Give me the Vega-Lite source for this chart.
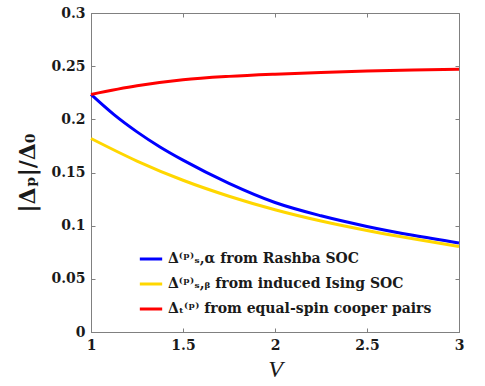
{
  "$schema": "https://vega.github.io/schema/vega-lite/v6.json",
  "width": 368,
  "height": 319,
  "autosize": "none",
  "padding": {"left": 91, "top": 13, "right": 26, "bottom": 54},
  "background": "white",
  "config": {
    "view": {"stroke": "#808080", "strokeWidth": 1},
    "font": "DejaVu Serif",
    "axis": {
      "grid": false,
      "domainColor": "#808080",
      "tickColor": "#808080",
      "tickSize": -4,
      "labelFont": "DejaVu Serif",
      "labelFontWeight": "bold",
      "labelFontSize": 14,
      "labelColor": "#1a1a1a",
      "titleColor": "#1a1a1a"
    }
  },
  "data": {
    "values": [
      {"V": 1.0, "value": 0.2234, "series": "Δ⁽ᵖ⁾ₛ,α from Rashba SOC"},
      {"V": 1.125, "value": 0.2044, "series": "Δ⁽ᵖ⁾ₛ,α from Rashba SOC"},
      {"V": 1.25, "value": 0.1882, "series": "Δ⁽ᵖ⁾ₛ,α from Rashba SOC"},
      {"V": 1.375, "value": 0.174, "series": "Δ⁽ᵖ⁾ₛ,α from Rashba SOC"},
      {"V": 1.5, "value": 0.1616, "series": "Δ⁽ᵖ⁾ₛ,α from Rashba SOC"},
      {"V": 1.75, "value": 0.1398, "series": "Δ⁽ᵖ⁾ₛ,α from Rashba SOC"},
      {"V": 2.0, "value": 0.1218, "series": "Δ⁽ᵖ⁾ₛ,α from Rashba SOC"},
      {"V": 2.25, "value": 0.1093, "series": "Δ⁽ᵖ⁾ₛ,α from Rashba SOC"},
      {"V": 2.5, "value": 0.0993, "series": "Δ⁽ᵖ⁾ₛ,α from Rashba SOC"},
      {"V": 2.75, "value": 0.0909, "series": "Δ⁽ᵖ⁾ₛ,α from Rashba SOC"},
      {"V": 3.0, "value": 0.0837, "series": "Δ⁽ᵖ⁾ₛ,α from Rashba SOC"},
      {"V": 1.0, "value": 0.182, "series": "Δ⁽ᵖ⁾ₛ,ᵦ from induced Ising SOC"},
      {"V": 1.25, "value": 0.1608, "series": "Δ⁽ᵖ⁾ₛ,ᵦ from induced Ising SOC"},
      {"V": 1.5, "value": 0.1427, "series": "Δ⁽ᵖ⁾ₛ,ᵦ from induced Ising SOC"},
      {"V": 1.75, "value": 0.1277, "series": "Δ⁽ᵖ⁾ₛ,ᵦ from induced Ising SOC"},
      {"V": 2.0, "value": 0.115, "series": "Δ⁽ᵖ⁾ₛ,ᵦ from induced Ising SOC"},
      {"V": 2.25, "value": 0.1044, "series": "Δ⁽ᵖ⁾ₛ,ᵦ from induced Ising SOC"},
      {"V": 2.5, "value": 0.0955, "series": "Δ⁽ᵖ⁾ₛ,ᵦ from induced Ising SOC"},
      {"V": 2.75, "value": 0.0877, "series": "Δ⁽ᵖ⁾ₛ,ᵦ from induced Ising SOC"},
      {"V": 3.0, "value": 0.0805, "series": "Δ⁽ᵖ⁾ₛ,ᵦ from induced Ising SOC"},
      {"V": 1.0, "value": 0.2234, "series": "Δₜ⁽ᵖ⁾ from equal-spin cooper pairs"},
      {"V": 1.25, "value": 0.2315, "series": "Δₜ⁽ᵖ⁾ from equal-spin cooper pairs"},
      {"V": 1.5, "value": 0.2372, "series": "Δₜ⁽ᵖ⁾ from equal-spin cooper pairs"},
      {"V": 1.75, "value": 0.2404, "series": "Δₜ⁽ᵖ⁾ from equal-spin cooper pairs"},
      {"V": 2.0, "value": 0.2425, "series": "Δₜ⁽ᵖ⁾ from equal-spin cooper pairs"},
      {"V": 2.25, "value": 0.2441, "series": "Δₜ⁽ᵖ⁾ from equal-spin cooper pairs"},
      {"V": 2.5, "value": 0.2454, "series": "Δₜ⁽ᵖ⁾ from equal-spin cooper pairs"},
      {"V": 2.75, "value": 0.2464, "series": "Δₜ⁽ᵖ⁾ from equal-spin cooper pairs"},
      {"V": 3.0, "value": 0.2472, "series": "Δₜ⁽ᵖ⁾ from equal-spin cooper pairs"}
    ]
  },
  "layer": [
    {
      "mark": {"type": "line", "strokeWidth": 3, "interpolate": "monotone"},
      "encoding": {
        "x": {
          "field": "V", "type": "quantitative",
          "scale": {"domain": [1, 3], "nice": false},
          "axis": {"values": [1, 1.5, 2, 2.5, 3], "format": "~g", "title": "V", "titleFont": "Liberation Serif", "titleFontStyle": "italic", "titleFontWeight": "normal", "titleFontSize": 24, "labelPadding": 10, "titlePadding": 5, "labelFlush": false}
        },
        "y": {
          "field": "value", "type": "quantitative",
          "scale": {"domain": [0, 0.3], "nice": false},
          "axis": {"values": [0, 0.05, 0.1, 0.15, 0.2, 0.25, 0.3], "format": "~g", "title": "|Δₚ|/Δ₀", "titleFont": "DejaVu Serif", "titleFontWeight": "bold", "titleFontSize": 22, "labelPadding": 10, "titlePadding": 11}
        },
        "color": {
          "field": "series", "type": "nominal",
          "scale": {
            "domain": ["Δ⁽ᵖ⁾ₛ,α from Rashba SOC", "Δ⁽ᵖ⁾ₛ,ᵦ from induced Ising SOC", "Δₜ⁽ᵖ⁾ from equal-spin cooper pairs"],
            "range": ["#0000ff", "#ffd700", "#ff0000"]
          },
          "legend": {
            "title": null, "orient": "none", "legendX": 47, "legendY": 233,
            "symbolType": "stroke", "symbolSize": 500, "symbolStrokeWidth": 3,
            "labelFont": "DejaVu Serif", "labelFontWeight": "bold", "labelFontSize": 14, "labelColor": "#1a1a1a",
            "labelLimit": 400, "rowPadding": 5, "padding": 0
          }
        }
      }
    },
    {
      "mark": {"type": "line", "strokeOpacity": 0},
      "encoding": {
        "x": {"field": "V", "type": "quantitative", "scale": {"domain": [1, 3], "nice": false},
          "axis": {"orient": "top", "values": [1, 1.5, 2, 2.5, 3], "labels": false, "title": null, "domain": false}},
        "y": {"field": "value", "type": "quantitative", "scale": {"domain": [0, 0.3], "nice": false},
          "axis": {"orient": "right", "values": [0, 0.05, 0.1, 0.15, 0.2, 0.25, 0.3], "labels": false, "title": null, "domain": false}},
        "detail": {"field": "series"}
      }
    }
  ],
  "resolve": {"axis": {"x": "independent", "y": "independent"}}
}
